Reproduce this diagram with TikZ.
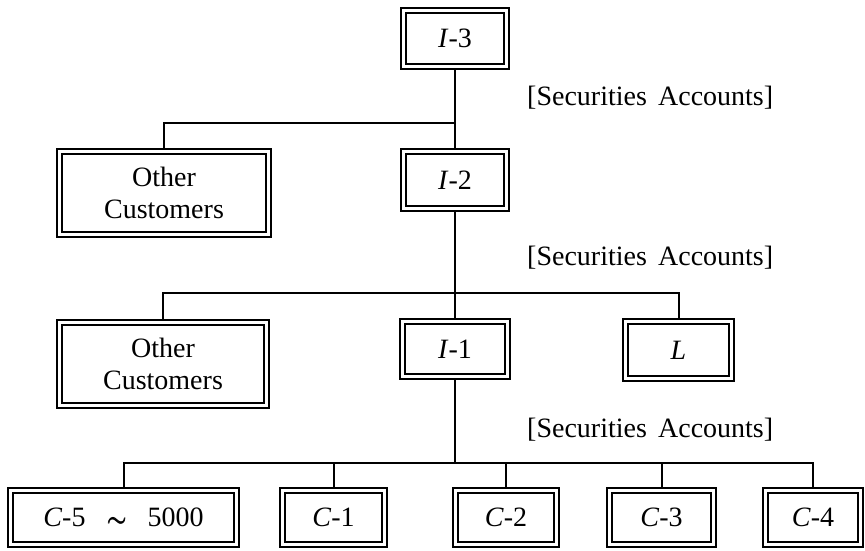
\documentclass[tikz,border=0pt]{standalone}
\usepackage{fontspec}
\setmainfont{Liberation Serif}
\newcommand{\boldtilde}{{\fontsize{34}{34}\selectfont\raisebox{-1pt}{\rlap{$\sim$}\hspace{0.8pt}\rlap{$\sim$}\raisebox{0.6pt}{$\sim$}}}}
\begin{document}
\begin{tikzpicture}[x=1pt,y=-1pt,
  box/.style={draw, line width=2pt, double, double distance=2.6pt, inner sep=0pt,
    outer sep=3.3pt, align=center, font=\fontsize{28}{32}\selectfont},
  conn/.style={line width=2pt},
  lab/.style={anchor=west, inner sep=0pt, font=\fontsize{28}{32}\selectfont}]
\useasboundingbox (0,0) rectangle (865,551);
% nodes (minimum sizes = outer size minus 6.6pt)
\node[box, minimum width=103.4pt, minimum height=56.4pt] (I3) at (455,38.5) {\textit{I}-3};
\node[box, minimum width=103.4pt, minimum height=57.4pt] (I2) at (455,180) {\textit{I}-2};
\node[box, minimum width=105.4pt, minimum height=55.4pt] (I1) at (455,349) {\textit{I}-1};
\node[box, minimum width=209.4pt, minimum height=83.4pt] (OC1) at (164,193) {Other\\Customers};
\node[box, minimum width=207.4pt, minimum height=83.4pt] (OC2) at (163,364) {Other\\Customers};
\node[box, minimum width=106.4pt, minimum height=57.4pt] (L) at (678.5,350) {\textit{L}};
\node[box, minimum width=226.4pt, minimum height=54.4pt] (C5) at (123.5,517.5) {\textit{C}-5\hspace{0.75em}\boldtilde\hspace{0.75em}5000};
\node[box, minimum width=102.4pt, minimum height=54.4pt] (C1) at (333.5,517.5) {\textit{C}-1};
\node[box, minimum width=101.4pt, minimum height=54.4pt] (C2) at (506,517.5) {\textit{C}-2};
\node[box, minimum width=104.4pt, minimum height=54.4pt] (C3) at (661.5,517.5) {\textit{C}-3};
\node[box, minimum width=95.4pt, minimum height=54.4pt] (C4) at (813,517.5) {\textit{C}-4};
% labels
\node[lab] (s1) at (527,98) {[Securities\hspace{0.15em} Accounts]};
\node[lab] (s2) at (527,258) {[Securities\hspace{0.15em} Accounts]};
\node[lab] (s3) at (527,430) {[Securities\hspace{0.15em} Accounts]};
% junctions
\coordinate (j1) at (455,123);
\coordinate (j2) at (455,293);
\coordinate (j3) at (455,463);
% connectors
\draw[conn] (I3.south) -- (I2.north);
\draw[conn] (OC1.north) |- (j1);
\draw[conn] (I2.south) -- (I1.north);
\draw[conn] (OC2.north) |- (j2);
\draw[conn] (L.north) |- (j2);
\draw[conn] (I1.south) -- (j3);
\draw[conn] (C5.north) |- (j3);
\draw[conn] (C1.north) |- (j3);
\draw[conn] (C2.north) |- (j3);
\draw[conn] (C3.north) |- (j3);
\draw[conn] (C4.north) |- (j3);
\end{tikzpicture}
\end{document}
